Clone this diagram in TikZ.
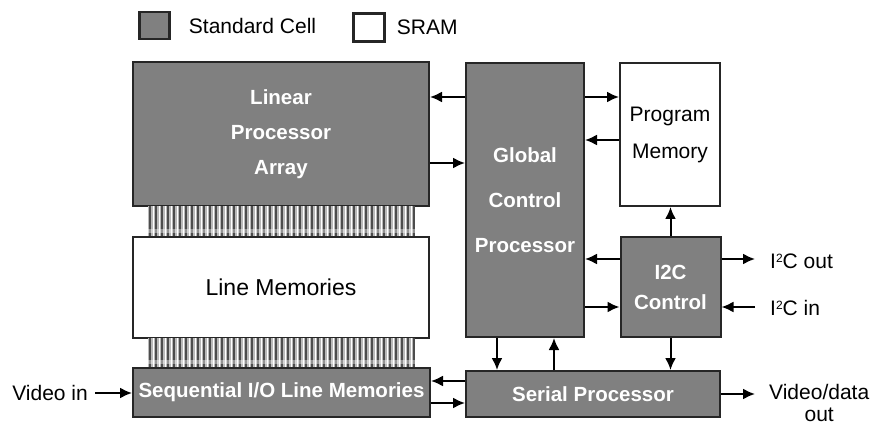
\documentclass[tikz,border=0pt]{standalone}
\usepackage{fontspec}
\setmainfont{Liberation Sans}
\usetikzlibrary{arrows.meta, positioning}
\definecolor{cellgray}{RGB}{128,128,128}
\tikzstyle{line} = [draw, -{Latex[length=12pt,width=11pt]}, line width=2pt]
\tikzstyle{cell} = [rectangle, draw=black!85, fill=cellgray, line width=2pt, text=white,
  font=\fontsize{20.5}{35}\selectfont\bfseries, align=center, inner sep=0pt]
\tikzstyle{sram} = [rectangle, draw=black!85, fill=white, line width=2pt,
  font=\fontsize{21}{37}\selectfont, align=center, inner sep=0pt]
\tikzstyle{iolabel} = [font=\fontsize{21}{22}\selectfont, align=center, inner sep=0pt]
\tikzstyle{bus} = [rectangle, fill=gray!55, inner sep=0pt, minimum width=267pt, minimum height=31pt,
  path picture={
    \foreach \k in {0,...,44}{
      \draw[gray!60!black, line width=1.4pt] ([xshift=\k*6pt+2pt]path picture bounding box.north west)
        -- ([xshift=\k*6pt+2pt]path picture bounding box.south west);
      \draw[white, line width=1pt] ([xshift=\k*6pt+5pt]path picture bounding box.north west)
        -- ([xshift=\k*6pt+5pt]path picture bounding box.south west);
    }
    \fill[white, opacity=0.4] ([yshift=4pt]path picture bounding box.south west)
      rectangle ([yshift=8pt]path picture bounding box.south east);
  }]
\newcommand{\sqtwo}{\raisebox{0.55ex}{\fontsize{12}{12}\selectfont 2}}

\begin{document}
\begin{tikzpicture}[x=1pt, y=-1pt]
    \useasboundingbox (0,0) rectangle (871,425);

    % legend
    \node [cell, line width=2.5pt, minimum width=30pt, minimum height=27pt] (stdkey) at (154.5,25.5) {};
    \node [iolabel, right=18pt of stdkey] (stdtext) {Standard Cell};
    \node [sram, line width=2.5pt, minimum width=31pt, minimum height=28pt] (sramkey) at (369,27.5) {};
    \node [iolabel, right=11pt of sramkey] (sramtext) {SRAM};

    % left column
    \node [cell, minimum width=296pt, minimum height=144pt] (lpa) at (281,134) {Linear\\Processor\\Array};
    \node [bus] (bus1) at (281.5,221.5) {};
    \node [sram, font=\fontsize{23}{26}\selectfont, minimum width=296pt, minimum height=101pt] (lm) at (281,287.5) {Line Memories};
    \node [bus, minimum height=30pt] (bus2) at (281.5,353) {};
    \node [cell, minimum width=297pt, minimum height=49pt] (seq) at (281.5,392.5) {Sequential I/O Line Memories};

    % right part
    \node [cell, font=\fontsize{20.5}{45}\selectfont\bfseries, minimum width=118pt, minimum height=274pt] (gcp) at (525,200) {Global\\Control\\Processor};
    \node [sram, minimum width=100pt, minimum height=143pt] (pm) at (670,134.5) {Program\\Memory};
    \node [cell, font=\fontsize{20.5}{30}\selectfont\bfseries, minimum width=100pt, minimum height=100pt] (i2c) at (670.5,287) {I2C\\Control};
    \node [cell, minimum width=254pt, minimum height=46pt] (sp) at (593,394) {Serial Processor};

    % outside signals
    \node [iolabel, anchor=east, inner xsep=7pt] (vin) at (95,393) {Video in};
    \node [iolabel, anchor=west, inner xsep=15pt] (i2cout) at (755,261) {I\sqtwo C out};
    \node [iolabel, anchor=west, inner xsep=15pt] (i2cin) at (755,308) {I\sqtwo C in};
    \node [iolabel, anchor=north west, inner xsep=14pt] (vout) at (755,384) {Video/data\\out};

    \path [line] (gcp.west |- 0,97) -- (lpa.east |- 0,97);
    \path [line] (lpa.east |- 0,163) -- (gcp.west |- 0,163);
    \path [line] (gcp.east |- 0,97) -- (pm.west |- 0,97);
    \path [line] (pm.west |- 0,140) -- (gcp.east |- 0,140);
    \path [line] (i2c.north) -- (i2c.north |- pm.south);
    \path [line] (i2c.west |- 0,259) -- (gcp.east |- 0,259);
    \path [line] (gcp.east |- 0,307) -- (i2c.west |- 0,307);
    \path [line] (i2c.east |- 0,259) -- (i2cout.west |- 0,259);
    \path [line] (i2cin.west |- 0,307) -- (i2c.east |- 0,307);
    \path [line] (i2c.south) -- (i2c.south |- sp.north);
    \path [line] (gcp.south -| 497,0) -- (sp.north -| 497,0);
    \path [line] (sp.north -| 554,0) -- (gcp.south -| 554,0);
    \path [line] (sp.west |- 0,381) -- (seq.east |- 0,381);
    \path [line] (seq.east |- 0,403) -- (sp.west |- 0,403);
    \path [line] (vin.east) -- (vin.east -| seq.west);
    \path [line] (sp.east) -- (sp.east -| vout.west);

  \end{tikzpicture}
\end{document}
